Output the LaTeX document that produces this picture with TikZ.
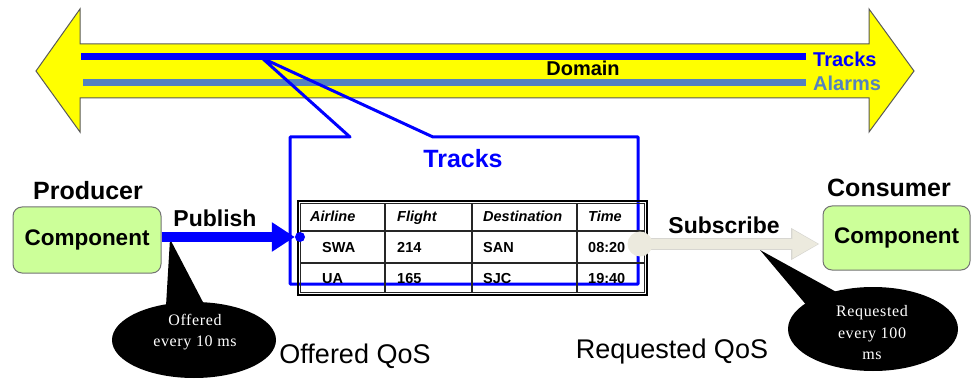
\documentclass[tikz,border=0pt]{standalone}
\usepackage{fontspec}
\setmainfont{Liberation Sans}
\newfontfamily\bubblefont[LetterSpace=4]{Liberation Serif}
\usetikzlibrary{arrows.meta,shapes.geometric}

\definecolor{domainyellow}{RGB}{255,255,0}
\definecolor{trackblue}{RGB}{0,0,255}
\definecolor{alarmblue}{RGB}{84,130,190}
\definecolor{compgreen}{RGB}{204,255,153}
\definecolor{subbeige}{RGB}{236,234,222}

\newcommand{\fsz}[2]{\fontsize{#1}{#2}\selectfont}

\begin{document}
\begin{tikzpicture}[x=1pt,y=-1pt,
  lbl/.style={inner sep=0pt},
  component/.style={draw=black!55, line width=1pt, fill=compgreen,
    rounded corners=9pt, minimum width=148pt, minimum height=66pt,
    font=\fsz{22.5}{26}\bfseries, inner sep=0pt},
  bubble/.style={ellipse, fill=black, inner sep=0pt},
  bubbletext/.style={text=white, align=center, inner sep=0pt,
    font=\bubblefont\fsz{16}{21.5}},
  cellhead/.style={anchor=base west, inner sep=0pt, font=\fsz{14.5}{17}\bfseries\itshape},
  cell/.style={anchor=base west, inner sep=0pt, font=\fsz{14.5}{17}\bfseries},
  grid/.style={draw=black!85, line width=1.2pt}
]
\useasboundingbox (0,0) rectangle (973,379);

% ---- the domain: double-headed yellow arrow ----
\draw[fill=domainyellow, draw=black!65, line width=1pt]
  (36,71) -- (80,9) -- (80,44) -- (869,44) -- (869,9) -- (914,71)
  -- (869,132) -- (869,98) -- (80,98) -- (80,132) -- cycle;
\node[lbl, font=\fsz{20}{24}\bfseries] (domain) at (583,68) {Domain};

% topics carried in the domain
\coordinate (trkA) at (81,56.5);
\coordinate (trkB) at (806,56.5);
\coordinate (almA) at (83,83);
\coordinate (almB) at (806,83);
\draw[trackblue, line width=7pt] (trkA) -- (trkB);
\draw[alarmblue, line width=7pt] (almA) -- (almB);
\node[lbl, anchor=west, text=trackblue, font=\fsz{20}{24}\bfseries] (trklbl) at (813,59) {Tracks};
\node[lbl, anchor=west, text=alarmblue, font=\fsz{20}{24}\bfseries] (almlbl) at (813,83) {Alarms};

% ---- callout from the Tracks topic ----
\coordinate (ctip) at (262,58);
\draw[trackblue, line width=3pt, line join=round]
  (ctip) -- (433,137) -- (638,137) -- (638,284) -- (290,284)
  -- (290,137) -- (350,137) -- cycle;
\node[lbl, text=trackblue, font=\fsz{25}{29}\bfseries] (calltitle) at (463,159) {Tracks};

% ---- Tracks data table ----
\draw[black, line width=1.6pt] (298,201) rectangle (647,295);
\draw[grid] (300.5,203.5) rectangle (644.5,292.5);
\draw[grid] (300.5,231) -- (644.5,231);
\draw[grid] (300.5,263) -- (644.5,263);
\draw[grid] (385,203.5) -- (385,292.5);
\draw[grid] (472,203.5) -- (472,292.5);
\draw[grid] (577,203.5) -- (577,292.5);

\node[cellhead] (h1) at (310,222) {Airline};
\node[cellhead] (h2) at (397,222) {Flight};
\node[cellhead] (h3) at (483,222) {Destination};
\node[cellhead] (h4) at (588,222) {Time};
\node[cell] (a1) at (322,252) {SWA};
\node[cell] (b1) at (397,252) {214};
\node[cell] (c1) at (483,252) {SAN};
\node[cell] (d1) at (588,252) {08:20};
\node[cell] (a2) at (322,283) {UA};
\node[cell] (b2) at (397,283) {165};
\node[cell] (c2) at (483,283) {SJC};
\node[cell] (d2) at (588,283) {19:40};

% ---- producer side ----
\node[component] (prod) at (87,240) {Component};
\node[lbl, font=\fsz{25}{29}\bfseries] (prodlbl) at (88,191) {Producer};

% offered QoS bubble
\coordinate (offtip) at (170,239);
\fill[black] (offtip) -- (205,306) -- (166,306) -- cycle;
\node[bubble, minimum width=164pt, minimum height=76pt] (offb) at (194,340) {};
\node[bubbletext] (offtxt) at (195,332) {Offered\\every 10 ms};

% publish connector
\node[circle, fill=trackblue, minimum size=10pt, inner sep=0pt] (pdot) at (300,237) {};
\draw[trackblue, line width=10pt, -{Triangle[length=23pt,width=28pt]}]
  ([yshift=3pt]prod.east) -- (pdot.west);
\node[lbl, font=\fsz{23}{27}\bfseries] (publbl) at (215,218) {Publish};

\node[lbl, font=\fsz{27}{31}] (offqos) at (355,356) {Offered QoS};

% ---- consumer side ----
\node[component, minimum width=147pt, minimum height=64pt] (cons) at (896.5,238) {Component};
\node[lbl, font=\fsz{25}{29}\bfseries] (conslbl) at (889,188) {Consumer};

% requested QoS bubble
\coordinate (reqtip) at (760,250);
\fill[black] (reqtip) -- (840,294) -- (808,307) -- cycle;
\node[bubble, minimum width=170pt, minimum height=84pt] (reqb) at (873,329) {};
\node[bubbletext] (reqtxt) at (872,333) {Requested\\every 100\\ms};

% subscribe connector
\coordinate (sstart) at (640,244);
\draw[subbeige!80!black!60, line width=11.5pt, shorten >=3pt,
  -{Triangle[length=28.5pt,width=30pt]}] (sstart) -- (sstart -| cons.west);
\draw[subbeige, line width=10pt, shorten >=4.2pt,
  -{Triangle[length=26pt,width=27pt]}] (sstart) -- (sstart -| cons.west);
\node[circle, fill=subbeige, minimum size=25pt, inner sep=0pt] (sdot) at (sstart) {};
\node[lbl, font=\fsz{23}{27}\bfseries] (sublbl) at (724,225) {Subscribe};

\node[lbl, font=\fsz{27}{31}] (reqqos) at (672,352) {Requested QoS};
\end{tikzpicture}
\end{document}
